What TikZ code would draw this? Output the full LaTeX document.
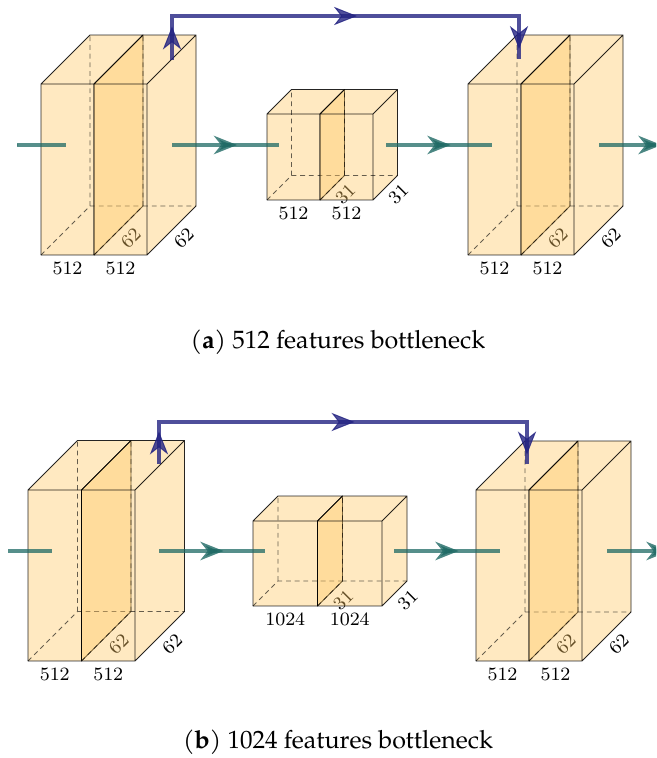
\documentclass[tikz,border=0pt]{standalone}
\usepackage{fontspec}
\newfontfamily\capfont{TeX Gyre Pagella}
\usetikzlibrary{arrows.meta,decorations.markings}

\definecolor{slabfill}{RGB}{255,200,100}
\definecolor{flowteal}{RGB}{30,105,100}
\definecolor{skipblue}{RGB}{35,35,130}

\tikzset{
  slabface/.style={fill=slabfill, fill opacity=0.4},
  slabedge/.style={draw=black, line width=0.4pt, draw opacity=0.85, line join=round},
  slabhidden/.style={draw=black, line width=0.4pt, draw opacity=0.6, dash pattern=on 2pt off 1.6pt},
  dimlabel/.style={font=\fontsize{7.8}{9}\selectfont, inner sep=2.6pt},
  depthlabel/.style={dimlabel, sloped, below, inner sep=3pt},
  flowhead/.style={decoration={markings, mark=at position 0.5 with
      {\arrow[flowteal, opacity=0.8, xshift=4.8pt]{Stealth[length=9.6pt,width=7.6pt,inset=3pt]}}},
    postaction={decorate}},
  skiphead/.style={decoration={markings, mark=at position 0.5 with
      {\arrow[skipblue, opacity=0.8, xshift=4.8pt]{Stealth[length=9.6pt,width=7.6pt,inset=3pt]}}},
    postaction={decorate}},
  flow/.style={draw=flowteal, line width=1.5pt, draw opacity=0.75, flowhead},
  skipline/.style={draw=skipblue, line width=1.4pt, draw opacity=0.8},
  captext/.style={font=\capfont\fontsize{10.4}{13}\selectfont, anchor=base},
}

% One slice of a feature volume drawn as a translucent cuboid.
% #1 name, #2 front left x, #3 front right x, #4 bottom y, #5 top y,
% #6 depth offset, #7 width label, #8 depth label, #9 depth label position
\newcommand{\featslab}[9]{%
  \coordinate (#1-fbl) at (#2,#4);
  \coordinate (#1-fbr) at (#3,#4);
  \coordinate (#1-ftl) at (#2,#5);
  \coordinate (#1-ftr) at (#3,#5);
  \coordinate (#1-bbl) at ({#2+#6},{#4-#6});
  \coordinate (#1-bbr) at ({#3+#6},{#4-#6});
  \coordinate (#1-btl) at ({#2+#6},{#5-#6});
  \coordinate (#1-btr) at ({#3+#6},{#5-#6});
  \fill[slabface] (#1-fbl) -- (#1-fbr) -- (#1-ftr) -- (#1-ftl) -- cycle;
  \fill[slabface] (#1-ftl) -- (#1-ftr) -- (#1-btr) -- (#1-btl) -- cycle;
  \fill[slabface] (#1-fbr) -- (#1-bbr) -- (#1-btr) -- (#1-ftr) -- cycle;
  \draw[slabhidden] (#1-fbl) -- (#1-bbl) -- (#1-bbr) (#1-bbl) -- (#1-btl);
  \draw[slabedge] (#1-fbl) -- (#1-fbr) -- (#1-ftr) -- (#1-ftl) -- cycle
    (#1-ftl) -- (#1-btl) -- (#1-btr) -- (#1-ftr)
    (#1-fbr) -- (#1-bbr) -- (#1-btr);
  \path (#1-fbl) -- (#1-fbr) node[dimlabel, midway, below] (#1-w) {#7};
  \path (#1-fbr) -- (#1-bbr) node[depthlabel, pos=#9] (#1-d) {#8};
}

\begin{document}
\begin{tikzpicture}[x=0.415pt, y=-0.415pt]
\useasboundingbox (0,0) rectangle (656,758);
\clip (0,0) rectangle (656,758);

% ---------------- (a) 512 features bottleneck ----------------
\featslab{a1s1}{41}{94}{255}{84}{49}{512}{62}{0.55}
\featslab{a1s2}{94}{147}{255}{84}{49}{512}{62}{0.55}
\featslab{a2s1}{267}{320}{200}{114}{24.5}{512}{31}{0.63}
\featslab{a2s2}{320}{373}{200}{114}{24.5}{512}{31}{0.63}
\featslab{a3s1}{468}{521}{255}{84}{49}{512}{62}{0.55}
\featslab{a3s2}{521}{574}{255}{84}{49}{512}{62}{0.55}

\coordinate (ain0) at (-52,145);  \coordinate (ain1) at (66,145);
\coordinate (a12s) at (172,145);  \coordinate (a12e) at (279,145);
\coordinate (a23s) at (386,145);  \coordinate (a23e) at (492,145);
\coordinate (aout0) at (599,145); \coordinate (aout1) at (701,145);
\coordinate (ask0) at (172,60);   \coordinate (ask1) at (172,16);
\coordinate (ask2) at (519,16);   \coordinate (ask3) at (519,59);

\begin{scope}
  \clip (17,100) rectangle (120,190);
  \path[flow] (ain0) -- (ain1);
\end{scope}
\path[flow] (a12s) -- (a12e);
\path[flow] (a23s) -- (a23e);
\path[flow] (aout0) -- (aout1);
\draw[skipline] (ask0) -- (ask1) -- (ask2) -- (ask3);
\path[skiphead] (ask0) -- (ask1);
\path[skiphead] (ask1) -- (ask2);
\path[skiphead] (ask2) -- (ask3);

\node[captext] (capa) at (338,348) {(\textbf{a}) 512 features bottleneck};

% ---------------- (b) 1024 features bottleneck ----------------
\featslab{b1s1}{28}{81.5}{661}{490}{49.5}{512}{62}{0.55}
\featslab{b1s2}{81.5}{135}{661}{490}{49.5}{512}{62}{0.55}
\featslab{b2s1}{253}{317.5}{606}{521}{25}{1024}{31}{0.63}
\featslab{b2s2}{317.5}{382}{606}{521}{25}{1024}{31}{0.63}
\featslab{b3s1}{476}{529}{661}{490}{49}{512}{62}{0.55}
\featslab{b3s2}{529}{582}{661}{490}{49}{512}{62}{0.55}

\coordinate (bin0) at (-64,551);  \coordinate (bin1) at (52,551);
\coordinate (b12s) at (159,551);  \coordinate (b12e) at (265,551);
\coordinate (b23s) at (394,551);  \coordinate (b23e) at (500,551);
\coordinate (bout0) at (607,551); \coordinate (bout1) at (709,551);
\coordinate (bsk0) at (159,464);  \coordinate (bsk1) at (159,422);
\coordinate (bsk2) at (527,422);  \coordinate (bsk3) at (527,464);

\begin{scope}
  \clip (8,500) rectangle (120,600);
  \path[flow] (bin0) -- (bin1);
\end{scope}
\path[flow] (b12s) -- (b12e);
\path[flow] (b23s) -- (b23e);
\path[flow] (bout0) -- (bout1);
\draw[skipline] (bsk0) -- (bsk1) -- (bsk2) -- (bsk3);
\path[skiphead] (bsk0) -- (bsk1);
\path[skiphead] (bsk1) -- (bsk2);
\path[skiphead] (bsk2) -- (bsk3);

\node[captext] (capb) at (338,748) {(\textbf{b}) 1024 features bottleneck};
\end{tikzpicture}
\end{document}
